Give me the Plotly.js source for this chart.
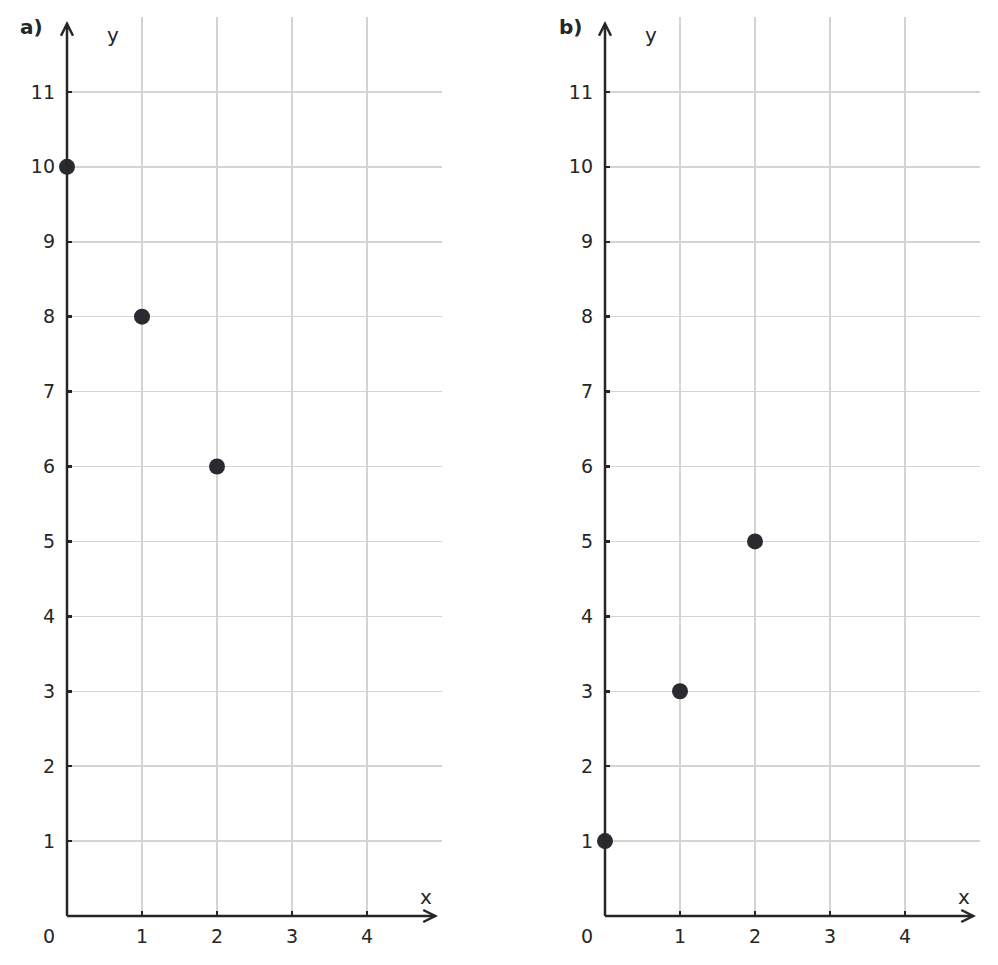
<!DOCTYPE html>
<html>
<head>
<meta charset="utf-8">
<script src="https://cdn.plot.ly/plotly-3.0.1.min.js"></script>
<style>
  html, body { margin: 0; padding: 0; background: #fff; }
  #plot { width: 998px; height: 965px; }
</style>
</head>
<body>
<div id="plot"></div>
<script>
// points
var xA = [0, 1, 2];
var yA = [10, 8, 6];
var xB = [0, 1, 2];
var yB = [1, 3, 5];

var xTicks = [1, 2, 3, 4];
var yTicks = [1, 2, 3, 4, 5, 6, 7, 8, 9, 10, 11];
var panelLabels = ["a)", "b)"];

var W = 998, H = 965;
var ink = "#262626";
var dot = "#2a2a30";
var grid = "#d4d4d4";
var fnt = {family: "DejaVu Sans", size: 19, color: ink};

// plot boxes in pixels, converted to paper fractions
function dom(a, b, total) { return [a / total, b / total]; }
var yDom = [(H - 916) / H, (H - 17) / H];

function xax(domain, anchor) {
  return {
    domain: domain, anchor: anchor, range: [0, 5],
    tickvals: xTicks, ticks: "inside", ticklen: 5, tickwidth: 2.5, tickcolor: ink,
    showgrid: true, gridcolor: grid, gridwidth: 1.5,
    zeroline: false, showline: false, fixedrange: true,
    tickfont: fnt, ticklabelstandoff: 7
  };
}
function yax(anchor) {
  return {
    domain: yDom, anchor: anchor, range: [0, 12],
    tickvals: yTicks, ticks: "inside", ticklen: 5, tickwidth: 2.5, tickcolor: ink,
    showgrid: true, gridcolor: grid, gridwidth: 1.5,
    zeroline: false, showline: false, fixedrange: true,
    tickfont: fnt, ticklabelstandoff: 11
  };
}

var data = [
  {x: xA, y: yA, type: "scatter", mode: "markers", xaxis: "x", yaxis: "y",
   marker: {size: 16, color: dot}, cliponaxis: false, hoverinfo: "x+y"},
  {x: xB, y: yB, type: "scatter", mode: "markers", xaxis: "x2", yaxis: "y2",
   marker: {size: 16, color: dot}, cliponaxis: false, hoverinfo: "x+y"}
];

// axis lines with open arrow heads (domain refs so they are not clipped)
var shapes = [];
var annotations = [];
var xTip = 4.91 / 5, yTip = 11.91 / 12;
[["x", "y", 0], ["x2", "y2", 1]].forEach(function (p) {
  var xr = p[0] + " domain", yr = p[1] + " domain";
  var ln = {color: ink, width: 2.5};
  shapes.push({type: "line", xref: xr, yref: yr, x0: 0, x1: xTip, y0: 0, y1: 0, line: ln});
  shapes.push({type: "line", xref: xr, yref: yr, x0: 0, x1: 0, y0: 0, y1: yTip, line: ln});
  shapes.push({type: "path", xref: xr, yref: yr, xsizemode: "pixel", ysizemode: "pixel",
    xanchor: xTip, yanchor: 0, path: "M -12 6 L 0 0 L -12 -6", line: ln});
  shapes.push({type: "path", xref: xr, yref: yr, xsizemode: "pixel", ysizemode: "pixel",
    xanchor: 0, yanchor: yTip, path: "M -6 -12 L 0 0 L 6 -12", line: ln});

  annotations.push({xref: p[0], yref: p[1], x: 0, y: 0, text: "0", showarrow: false,
    xanchor: "center", yanchor: "middle", xshift: -18, yshift: -20, font: fnt});
  annotations.push({xref: p[0], yref: p[1], x: 4.79, y: 0.25, text: "x", showarrow: false,
    xanchor: "center", yanchor: "middle", font: {family: "DejaVu Sans", size: 20, color: ink}});
  annotations.push({xref: p[0], yref: p[1], x: 0.61, y: 11.76, text: "y", showarrow: false,
    xanchor: "center", yanchor: "middle", font: {family: "DejaVu Sans", size: 20, color: ink}});
  annotations.push({xref: "paper", yref: "paper", x: (p[2] ? 570 : 31) / W, y: 1 - 27 / H,
    xanchor: "center", yanchor: "middle",
    text: "<b>" + panelLabels[p[2]] + "</b>", showarrow: false,
    font: {family: "DejaVu Sans", size: 20, color: ink}});
});

var layout = {
  width: W, height: H,
  margin: {l: 0, r: 0, t: 0, b: 0},
  paper_bgcolor: "#fff", plot_bgcolor: "#fff",
  showlegend: false,
  xaxis: xax(dom(67, 442, W), "y"),
  yaxis: yax("x"),
  xaxis2: xax(dom(605, 980, W), "y2"),
  yaxis2: yax("x2"),
  shapes: shapes,
  annotations: annotations,
  hovermode: "closest"
};

Plotly.newPlot("plot", data, layout, {displayModeBar: false, staticPlot: true});
</script>
</body>
</html>
